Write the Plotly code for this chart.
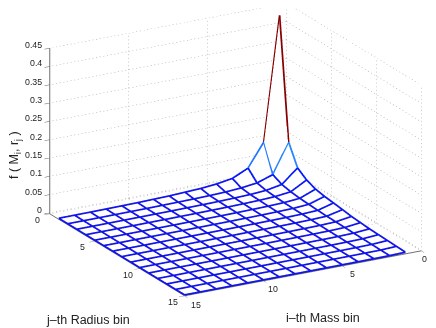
import plotly.graph_objects as go

mass_bins = list(range(1, 16))
radius_bins = list(range(1, 16))
i_ticks = [0, 5, 10, 15]
j_ticks = [0, 5, 10, 15]
z_ticks = [0, 0.05, 0.1, 0.15, 0.2, 0.25, 0.3, 0.35, 0.4, 0.45]
z_tick_labels = ["0", "0.05", "0.1", "0.15", "0.2", "0.25", "0.3", "0.35", "0.4", "0.45"]

# rows: i-th mass bin, columns: j-th radius bin
f_values = [
    [.440, .109, .053, .035, .025, .020, .017, .0137, .010, .008, .006, .005, .004, .003, .002],
    [.1025, .028, .016, .011, .008, .0065, .005, .004, .0035, .003, .0025, .002, .0015, .001, .0008],
    [.039, .0135, .008, .006, .0045, .0035, .003, .0025, .002, .0017, .0014, .0012, .001, .0008, .0006],
    [.019, .008, .005, .004, .003, .0025, .002, .0017, .0014, .0012, .001, .0008, .0007, .0006, .0005],
    [.012, .005, .0035, .0028, .0022, .0018, .0015, .0012, .001, .0009, .0008, .0007, .0006, .0005, .0004],
    [.008, .0035, .0025, .002, .0016, .0013, .0011, .0009, .0008, .0007, .0006, .0005, .0004, .0004, .0003],
    [.006, .0025, .0018, .0015, .0012, .001, .0008, .0007, .0006, .0005, .0005, .0004, .0003, .0003, .0002],
    [.004, .002, .0014, .0011, .0009, .0008, .0006, .0005, .0005, .0004, .0004, .0003, .0003, .0002, .0002],
    [.003, .0015, .001, .0008, .0007, .0006, .0005, .0004, .0004, .0003, .0003, .0002, .0002, .0002, .0001],
    [.002, .001, .0008, .0006, .0005, .0004, .0004, .0003, .0003, .0002, .0002, .0002, .0001, .0001, .0001],
    [.0015, .0008, .0006, .0005, .0004, .0003, .0003, .0002, .0002, .0002, .0001, .0001, .0001, .0001, .0001],
    [.001, .0006, .0004, .0003, .0003, .0002, .0002, .0002, .0001, .0001, .0001, .0001, .0001, .0001, .0001],
    [.0007, .0004, .0003, .0002, .0002, .0002, .0001, .0001, .0001, .0001, .0001, .0001, .0001, .0001, 0],
    [.0005, .0003, .0002, .0002, .0001, .0001, .0001, .0001, .0001, .0001, .0001, 0, 0, 0, 0],
    [.0003, .0002, .0001, .0001, .0001, .0001, .0001, 0, 0, 0, 0, 0, 0, 0, 0],
]

JET_STOPS = [(0, (.08, .08, .9)), (.125, (0, .1, 1)), (.375, (.3, 1, 1)), (.625, (1, 1, 0)), (.875, (1, 0, 0)), (1, (.5, 0, 0))]


def jet(t):
    for (a, ca), (b, cb) in zip(JET_STOPS, JET_STOPS[1:]):
        if t <= b:
            f = (t - a) / (b - a)
            return "rgb(%d,%d,%d)" % tuple(round(255 * (p + (q - p) * f)) for p, q in zip(ca, cb))
    return "rgb(128,0,0)"


zmax = max(max(r) for r in f_values)
zmin = 0


def level(v):
    return min(63, int((v - zmin) / (zmax - zmin) * 64))


groups = {}
n_i, n_j = len(mass_bins), len(radius_bins)
for a in range(n_i):
    for b in range(n_j):
        v = f_values[a][b]
        g = groups.setdefault(level(v), ([], [], []))
        if a + 1 < n_i:
            g[0].extend([mass_bins[a], mass_bins[a + 1], None])
            g[1].extend([radius_bins[b], radius_bins[b], None])
            g[2].extend([v, f_values[a + 1][b], None])
        if b + 1 < n_j:
            g[0].extend([mass_bins[a], mass_bins[a], None])
            g[1].extend([radius_bins[b], radius_bins[b + 1], None])
            g[2].extend([v, f_values[a][b + 1], None])

fig = go.Figure()

# White faces sit just under the mesh lines so the lines win the depth test
face_drop = 0.002
fig.add_trace(go.Surface(x=mass_bins, y=radius_bins,
                         z=[[v - face_drop for v in c] for c in zip(*f_values)],
                         colorscale=[[0, "white"], [1, "white"]], showscale=False,
                         lighting=dict(ambient=1, diffuse=0, specular=0, fresnel=0),
                         hoverinfo="skip"))

for lv, (xs, ys, zs) in sorted(groups.items()):
    fig.add_trace(go.Scatter3d(x=xs, y=ys, z=zs, mode="lines", showlegend=False, hoverinfo="skip",
                               line=dict(color=jet((lv + .5) / 64), width=3.5)))

imax, jmax, ztop = i_ticks[-1], j_ticks[-1], z_ticks[-1]
zbot = -0.0025
gx, gy, gz = [], [], []


def dotted(p, q, n):
    """Dotted wall grid line, drawn as n short pieces between two axis-tick positions."""
    for k in range(n):
        s, e = k / n, (k + .3) / n
        for w in (s, e):
            gx.append(p[0] + (q[0] - p[0]) * w)
            gy.append(p[1] + (q[1] - p[1]) * w)
            gz.append(p[2] + (q[2] - p[2]) * w)
        gx.append(None)
        gy.append(None)
        gz.append(None)


for t in i_ticks:
    dotted((t, 0, zbot), (t, 0, ztop), 45)
    dotted((t, 0, zbot), (t, jmax, zbot), 43)
for t in j_ticks:
    dotted((0, t, zbot), (0, t, ztop), 45)
    dotted((0, t, zbot), (imax, t, zbot), 65)
for t in z_ticks:
    dotted((0, 0, t), (imax, 0, t), 65)
    dotted((0, 0, t), (0, jmax, t), 43)
fig.add_trace(go.Scatter3d(x=gx, y=gy, z=gz, mode="lines", showlegend=False, hoverinfo="skip",
                           line=dict(color="#a0a0a0", width=1)))

axis_common = dict(showgrid=False, zeroline=False, showbackground=False, showspikes=False,
                   showline=True, linecolor="#707070", linewidth=2, ticks="outside",
                   ticklen=6, tickcolor="#606060", tickwidth=1, showticklabels=False,
                   title=dict(text=""))

tick_font = dict(family="Liberation Sans", size=8.8, color="#222")
scene_labels = []
for t, label in zip(z_ticks, z_tick_labels):
    scene_labels.append(dict(x=imax, y=0, z=t, text=label, showarrow=False,
                             xanchor="right", xshift=-6, yshift=3, font=tick_font))
for t in i_ticks[1:]:
    scene_labels.append(dict(x=t, y=jmax, z=0, text=str(t), showarrow=False,
                             xshift=10 + (t == 15), yshift=-9 - (t == 15), font=tick_font))
for t in j_ticks:
    scene_labels.append(dict(x=imax, y=t, z=0, text=str(t), showarrow=False,
                             xshift=-12, yshift=-7, font=tick_font))

k = 1.653
cx, cy, cz = .0733, .0124, -.129
title_font = dict(family="Liberation Sans", size=12.5, color="#222")
fig.update_layout(
    width=436, height=328, autosize=False, showlegend=False,
    margin=dict(l=0, r=0, t=0, b=0), paper_bgcolor="white",
    scene=dict(
        domain=dict(x=[0, 1], y=[0, 1]),
        xaxis=dict(axis_common, range=[0, imax], tickvals=i_ticks),
        yaxis=dict(axis_common, range=[0, jmax], tickvals=j_ticks),
        zaxis=dict(axis_common, range=[zbot, ztop], tickvals=z_ticks),
        aspectmode="manual", aspectratio=dict(x=1 * k, y=1.019 * k, z=.65 * k),
        camera=dict(projection=dict(type="orthographic"),
                    eye=dict(x=.459 * 2 + cx, y=.821 * 2 + cy, z=.34 * 2 + cz),
                    center=dict(x=cx, y=cy, z=cz), up=dict(x=0, y=0, z=1)),
        annotations=scene_labels,
    ),
    annotations=[
        dict(text="j\u2013th Radius bin", x=80 / 436, y=1 - 312 / 328, xref="paper", yref="paper", showarrow=False,
             xanchor="center", yanchor="middle", font=title_font),
        dict(text="i\u2013th Mass bin", x=315 / 436, y=1 - 310 / 328, xref="paper", yref="paper", showarrow=False,
             xanchor="center", yanchor="middle", font=title_font),
        dict(text="f ( M<sub>i</sub>, r<sub>j</sub> )", x=7 / 436, y=1 - 147 / 328, xref="paper", yref="paper", showarrow=False,
             xanchor="center", yanchor="middle", textangle=-90, font=title_font),
        dict(text=str(i_ticks[0]), x=416 / 436, y=1 - 251 / 328, xref="paper", yref="paper", showarrow=False,
             xanchor="center", yanchor="middle", font=tick_font),
    ],
)

fig.write_html("out.html")
